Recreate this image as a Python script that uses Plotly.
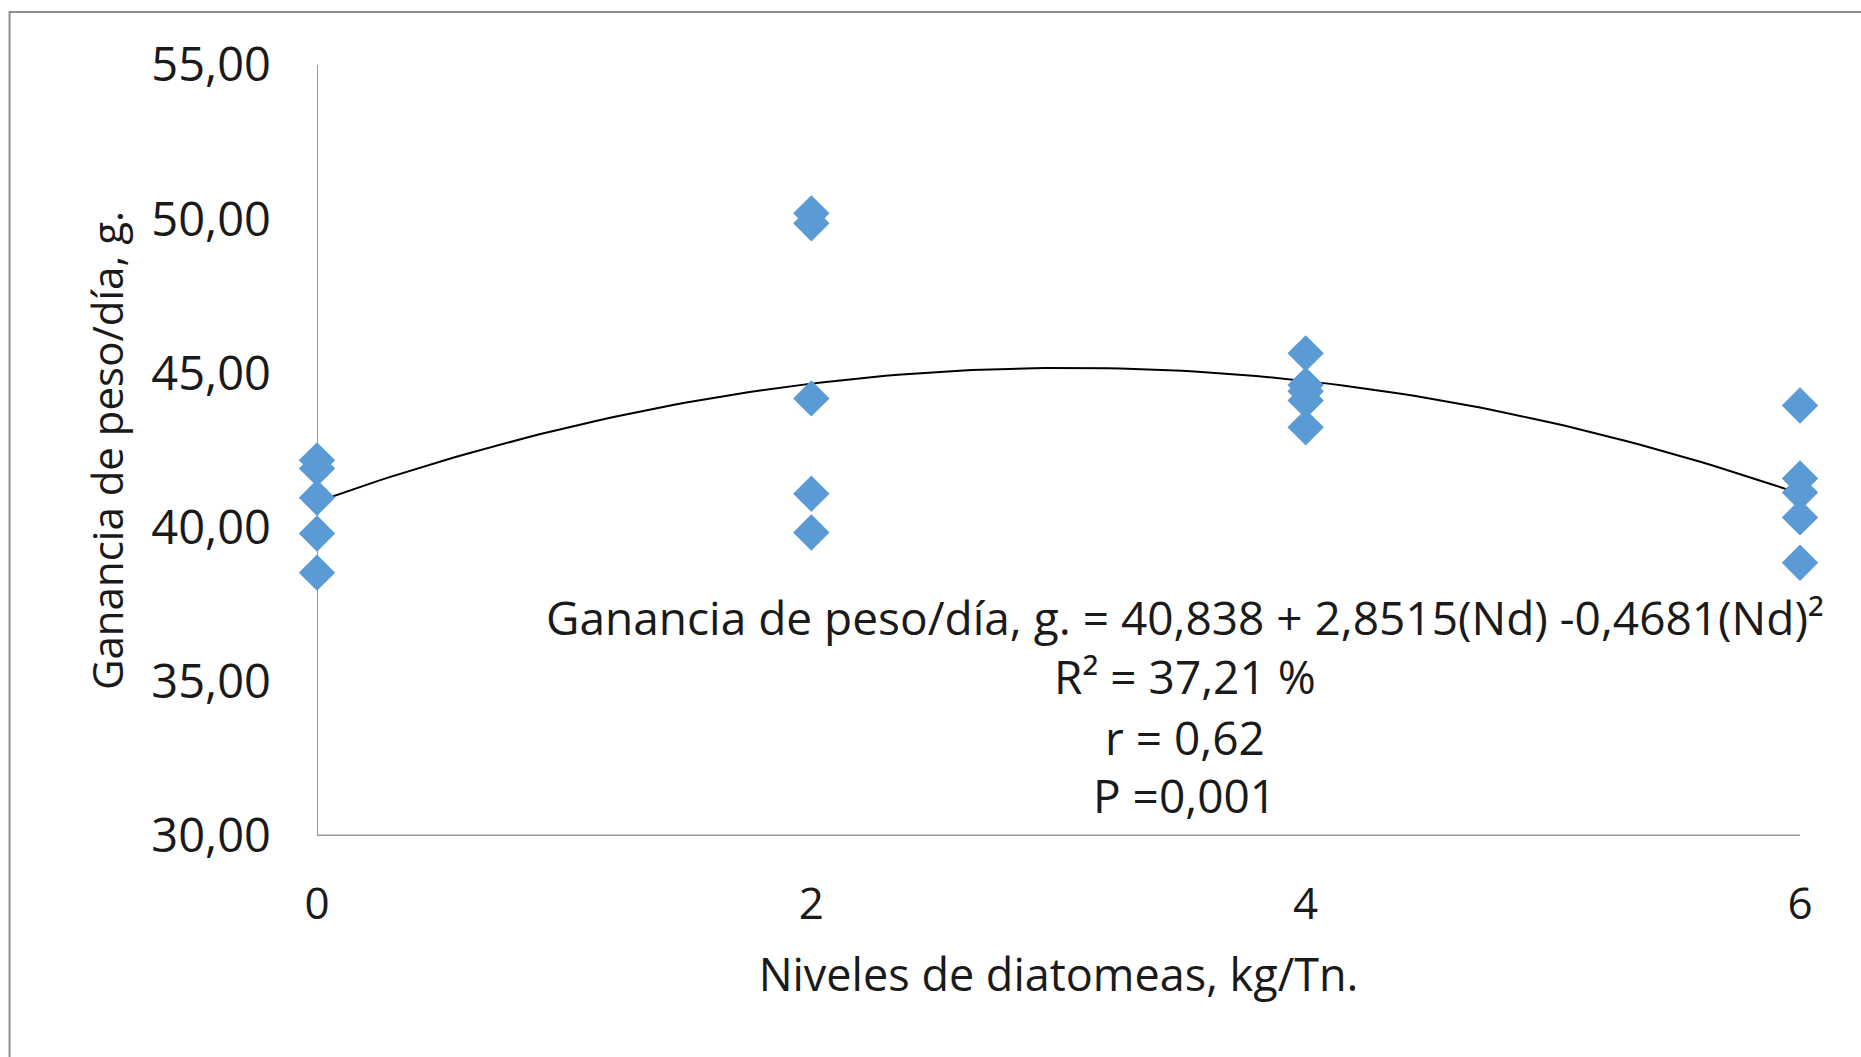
import numpy as np
import plotly.graph_objects as go

# Diatomite levels (kg/Tn) and daily weight gain (g) per replicate
niveles = [0, 0, 0, 0, 0,
           2, 2, 2, 2, 2,
           4, 4, 4, 4, 4,
           6, 6, 6, 6, 6]
ganancia = [42.18, 41.92, 40.97, 39.81, 38.54,
            50.19, 49.87, 44.19, 41.10, 39.84,
            45.65, 44.62, 44.42, 44.12, 43.25,
            43.96, 41.59, 41.14, 40.33, 38.86]

# Quadratic fit coefficients reported in the equation label
b0, b1, b2 = 40.838, 2.8515, -0.4681

x_ticks = [0, 2, 4, 6]
y_ticks = [30, 35, 40, 45, 50, 55]
y_tick_labels = ["30,00", "35,00", "40,00", "45,00", "50,00", "55,00"]

eq_lines = [
    "Ganancia de peso/día, g. = 40,838 + 2,8515(Nd) -0,4681(Nd)²",
    "R² = 37,21 %",
    "r = 0,62",
    "P =0,001",
]
eq_y = [37.11, 35.19, 33.21, 31.33]

FONT = "Open Sans"
TXT = "#1a1a1a"
AXIS = "#9a9a9a"

xs = np.linspace(0, 6, 121)
ys = b0 + b1 * xs + b2 * xs ** 2

fig = go.Figure()
fig.add_trace(go.Scatter(
    x=xs, y=ys, mode="lines",
    line=dict(color="black", width=2),
    hoverinfo="skip", showlegend=False,
))
fig.add_trace(go.Scatter(
    x=niveles, y=ganancia, mode="markers",
    marker=dict(symbol="diamond", size=28, color="#5B9BD5",
                line=dict(width=0)),
    cliponaxis=False, showlegend=False,
))

for txt, yy in zip(eq_lines, eq_y):
    fig.add_annotation(
        x=3.51, y=yy, xref="x", yref="y", text=txt, showarrow=False,
        font=dict(family=FONT, size=46, color=TXT),
        xanchor="center", yanchor="middle",
    )

# Outer chart border (left and top edges visible)
fig.add_shape(type="rect", xref="paper", yref="paper",
              x0=-0.2073, x1=1.2, y0=-0.3, y1=1.0686,
              line=dict(color="#8c8c8c", width=2), fillcolor="rgba(0,0,0,0)",
              layer="below")

fig.update_layout(
    width=1861, height=1057,
    margin=dict(l=317, r=61, t=65, b=221),
    paper_bgcolor="white", plot_bgcolor="white",
    font=dict(family=FONT, color=TXT),
    xaxis=dict(
        range=[0, 6], tickvals=x_ticks, ticktext=[str(v) for v in x_ticks],
        showgrid=False, zeroline=False, showline=False, ticks="",
        tickfont=dict(family=FONT, size=44, color=TXT), ticklabelstandoff=38,
        title=dict(text="Niveles de diatomeas, kg/Tn.",
                   font=dict(family=FONT, size=45, color=TXT), standoff=28),
    ),
    yaxis=dict(
        range=[30, 55], tickvals=y_ticks, ticktext=y_tick_labels,
        showgrid=False, zeroline=False, showline=False, ticks="",
        tickfont=dict(family=FONT, size=47, color=TXT), ticklabelstandoff=45,
        title=dict(text="Ganancia de peso/día, g.",
                   font=dict(family=FONT, size=42, color=TXT), standoff=14),
    ),
)

# Axis lines drawn as shapes so their look can be controlled
fig.add_shape(type="line", xref="x", yref="y", x0=0, x1=0, y0=30, y1=55,
              line=dict(color=AXIS, width=2), layer="below")
fig.add_shape(type="line", xref="x", yref="y", x0=0, x1=6, y0=30, y1=30,
              line=dict(color=AXIS, width=3), layer="below")

fig.write_html("out.html")
